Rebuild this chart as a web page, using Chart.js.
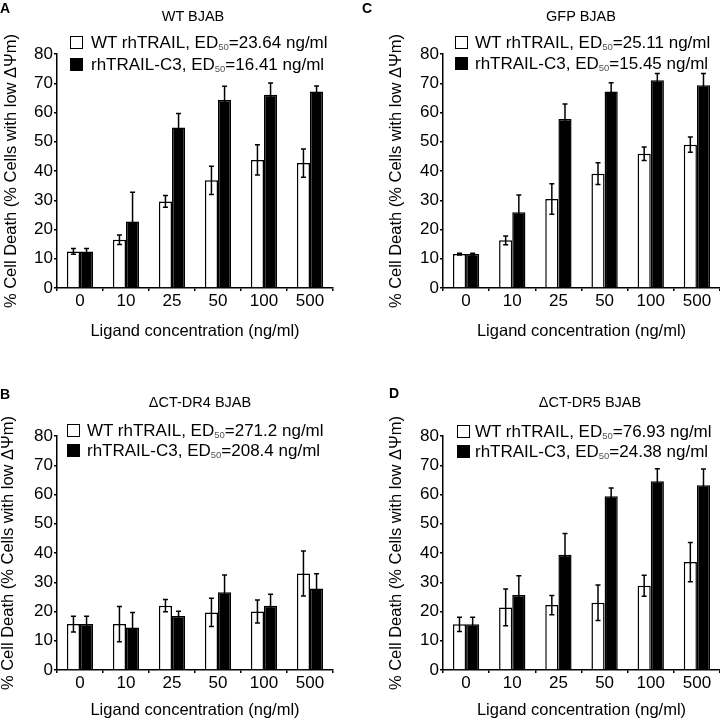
<!DOCTYPE html>
<html>
<head>
<meta charset="utf-8">
<script src="https://cdn.jsdelivr.net/npm/chart.js@4.4.1/dist/chart.umd.min.js"></script>
<style>
    body { margin: 0; background: #fff; }
    #figure { position: relative; width: 720px; height: 723px; overflow: hidden;
              font-family: 'Liberation Sans', Arial, sans-serif; color: #000; }
    #figure canvas { position: absolute; }
    .letter { position: absolute; font-weight: bold; font-size: 14px; line-height: 14px; }
    .panel-title { position: absolute; font-size: 14.5px; line-height: 16px; white-space: nowrap;
                   transform: translate(-50%, -50%); }
    .legend-box { position: absolute; width: 11px; height: 11px; border: 1.5px solid #000; }
    .legend-text { position: absolute; font-size: 17px; line-height: 20px; white-space: nowrap; }
    .legend-text sub { font-size: 9.5px; color: #555; vertical-align: -2px; }
</style>
</head>
<body>
<div id="figure">
    <canvas id="chart-a" width="360" height="360" style="left:0;top:0"></canvas>
    <canvas id="chart-c" width="360" height="360" style="left:360px;top:0"></canvas>
    <canvas id="chart-b" width="360" height="363" style="left:0;top:360px"></canvas>
    <canvas id="chart-d" width="360" height="363" style="left:360px;top:360px"></canvas>
</div>
<script>
// categories and labels
const concentrations = ['0', '10', '25', '50', '100', '500'];
const panelLetters = ['A', 'C', 'B', 'D'];
const panelTitles = ['WT BJAB', 'GFP BJAB', '\u0394CT-DR4 BJAB', '\u0394CT-DR5 BJAB'];
const ed50Wild = ['23.64', '25.11', '271.2', '76.93'];
const ed50C3 = ['16.41', '15.45', '208.4', '24.38'];
const seriesNames = ['WT rhTRAIL', 'rhTRAIL-C3'];
const yLabel = '% Cell Death (% Cells with low \u0394\u03A8m)';
const xLabel = 'Ligand concentration (ng/ml)';

// A - WT BJAB
const wtBjabWild = [12.5, 16.5, 29.6, 36.8, 43.8, 42.7];
const wtBjabWildErr = [1.0, 1.6, 2.0, 4.8, 5.2, 4.8];
const wtBjabC3 = [12.5, 22.7, 54.9, 64.3, 66.1, 67.2];
const wtBjabC3Err = [1.0, 10.0, 4.8, 4.7, 4.0, 1.9];

// C - GFP BJAB
const gfpBjabWild = [11.6, 16.3, 30.4, 39.1, 45.9, 49.0];
const gfpBjabWildErr = [0.3, 1.5, 5.2, 3.7, 2.3, 2.6];
const gfpBjabC3 = [11.6, 25.9, 57.8, 67.2, 71.0, 69.3];
const gfpBjabC3Err = [0.3, 5.9, 5.1, 3.0, 2.3, 4.0];

// B - dCT-DR4 BJAB
const dr4BjabWild = [15.7, 15.7, 22.0, 19.7, 20.0, 33.0];
const dr4BjabWildErr = [2.7, 6.0, 2.1, 4.8, 3.9, 7.7];
const dr4BjabC3 = [15.7, 14.5, 18.5, 26.6, 22.0, 27.9];
const dr4BjabC3Err = [2.7, 5.2, 1.6, 5.9, 3.9, 5.0];

// D - dCT-DR5 BJAB
const dr5BjabWild = [15.6, 21.4, 22.2, 23.0, 28.8, 36.9];
const dr5BjabWildErr = [2.4, 6.3, 3.3, 6.1, 3.6, 6.7];
const dr5BjabC3 = [15.6, 25.6, 39.4, 59.4, 64.5, 63.2];
const dr5BjabC3Err = [2.4, 6.6, 7.3, 2.8, 4.3, 5.5];

const fontFamily = "'Liberation Sans', Arial, sans-serif";

const errorBars = {
    id: 'errorBars',
    afterDatasetsDraw(chart) {
        const ctx = chart.ctx;
        const yScale = chart.scales.y;
        ctx.save();
        ctx.strokeStyle = '#000';
        ctx.lineWidth = 1.5;
        chart.data.datasets.forEach((dataset, i) => {
            chart.getDatasetMeta(i).data.forEach((bar, j) => {
                const value = dataset.data[j];
                const err = dataset.errors[j];
                const top = yScale.getPixelForValue(value + err);
                const bottom = yScale.getPixelForValue(value - err);
                ctx.beginPath();
                ctx.moveTo(bar.x, top);
                ctx.lineTo(bar.x, bottom);
                ctx.moveTo(bar.x - 2.5, top);
                ctx.lineTo(bar.x + 2.5, top);
                ctx.moveTo(bar.x - 2.5, bottom);
                ctx.lineTo(bar.x + 2.5, bottom);
                ctx.stroke();
            });
        });
        ctx.restore();
    }
};

function drawPanel(canvasId, wild, wildErr, c3, c3Err, box) {
    const data = {
        labels: concentrations,
        datasets: [
            {
                label: seriesNames[0],
                data: wild,
                errors: wildErr,
                backgroundColor: '#fff',
                borderColor: '#000',
                borderWidth: 1.5
            },
            {
                label: seriesNames[1],
                data: c3,
                errors: c3Err,
                backgroundColor: '#000',
                borderColor: '#000',
                borderWidth: 1.5
            }
        ]
    };

    const chartConfig = {
        type: 'bar',
        data: data,
        plugins: [errorBars],
        options: {
            responsive: false,
            animation: false,
            categoryPercentage: 0.57,
            barPercentage: 1.0,
            layout: {
                padding: {top: box.top, right: box.right, bottom: 0, left: 0}
            },
            scales: {
                y: {
                    min: 0,
                    max: 80,
                    ticks: {stepSize: 10, color: '#000', padding: 1, font: {family: fontFamily, size: 17}},
                    grid: {drawOnChartArea: false, tickLength: 3, color: '#000', lineWidth: 1.5},
                    border: {color: '#000', width: 1.5},
                    title: {
                        display: true,
                        text: yLabel,
                        color: '#000',
                        font: {family: fontFamily, size: 16.5},
                        padding: {top: box.yTitle - 9.9, bottom: 0}
                    },
                    afterFit: (scale) => { scale.width = box.left; }
                },
                x: {
                    ticks: {color: '#000', padding: 0, font: {family: fontFamily, size: 17}},
                    grid: {drawOnChartArea: false, tickLength: 3, color: '#000', lineWidth: 1.5, offset: true},
                    border: {color: '#000', width: 1.5},
                    title: {
                        display: true,
                        text: xLabel,
                        color: '#000',
                        font: {family: fontFamily, size: 16.5},
                        padding: {top: 0, bottom: box.xTitle - 9.9}
                    },
                    afterFit: (scale) => { scale.height = box.xHeight; }
                }
            },
            plugins: {
                legend: {display: false},
                tooltip: {enabled: false}
            }
        }
    };

    new Chart(document.getElementById(canvasId), chartConfig);
}

function addText(cls, html, left, top) {
    const el = document.createElement('div');
    el.className = cls;
    el.innerHTML = html;
    el.style.left = left + 'px';
    el.style.top = top + 'px';
    document.getElementById('figure').appendChild(el);
    return el;
}

function addDecorations(i, pos) {
    addText('letter', panelLetters[i], pos.letter[0], pos.letter[1]);
    addText('panel-title', panelTitles[i], pos.title[0], pos.title[1]);
    const rows = [
        {fill: '#fff', text: `${seriesNames[0]}, ED<sub>50</sub>=${ed50Wild[i]} ng/ml`},
        {fill: '#000', text: `${seriesNames[1]}, ED<sub>50</sub>=${ed50C3[i]} ng/ml`}
    ];
    rows.forEach((row, r) => {
        const cy = pos.legendY[r];
        const sq = addText('legend-box', '', pos.boxX, cy - 7);
        sq.style.background = row.fill;
        addText('legend-text', row.text, pos.textX, cy - 10);
    });
}

drawPanel('chart-a', wtBjabWild, wtBjabWildErr, wtBjabC3, wtBjabC3Err,
    {top: 54, right: 27, left: 57, xHeight: 72, yTitle: 11, xTitle: 29});
drawPanel('chart-c', gfpBjabWild, gfpBjabWildErr, gfpBjabC3, gfpBjabC3Err,
    {top: 54, right: 0, left: 83, xHeight: 72, yTitle: 36, xTitle: 29});
drawPanel('chart-b', dr4BjabWild, dr4BjabWildErr, dr4BjabC3, dr4BjabC3Err,
    {top: 76, right: 27, left: 57, xHeight: 53, yTitle: 8, xTitle: 13});
drawPanel('chart-d', dr5BjabWild, dr5BjabWildErr, dr5BjabC3, dr5BjabC3Err,
    {top: 76, right: 0, left: 83, xHeight: 53, yTitle: 36, xTitle: 13});

addDecorations(0, {letter: [0, 1], title: [193, 16], boxX: 70, textX: 91, legendY: [43, 65]});
addDecorations(1, {letter: [362, 1], title: [581, 16], boxX: 455, textX: 475, legendY: [43, 64]});
addDecorations(2, {letter: [0, 387], title: [200, 402], boxX: 67, textX: 87, legendY: [431, 451]});
addDecorations(3, {letter: [389, 386], title: [590, 402], boxX: 457, textX: 475, legendY: [432, 452]});
</script>
</body>
</html>
